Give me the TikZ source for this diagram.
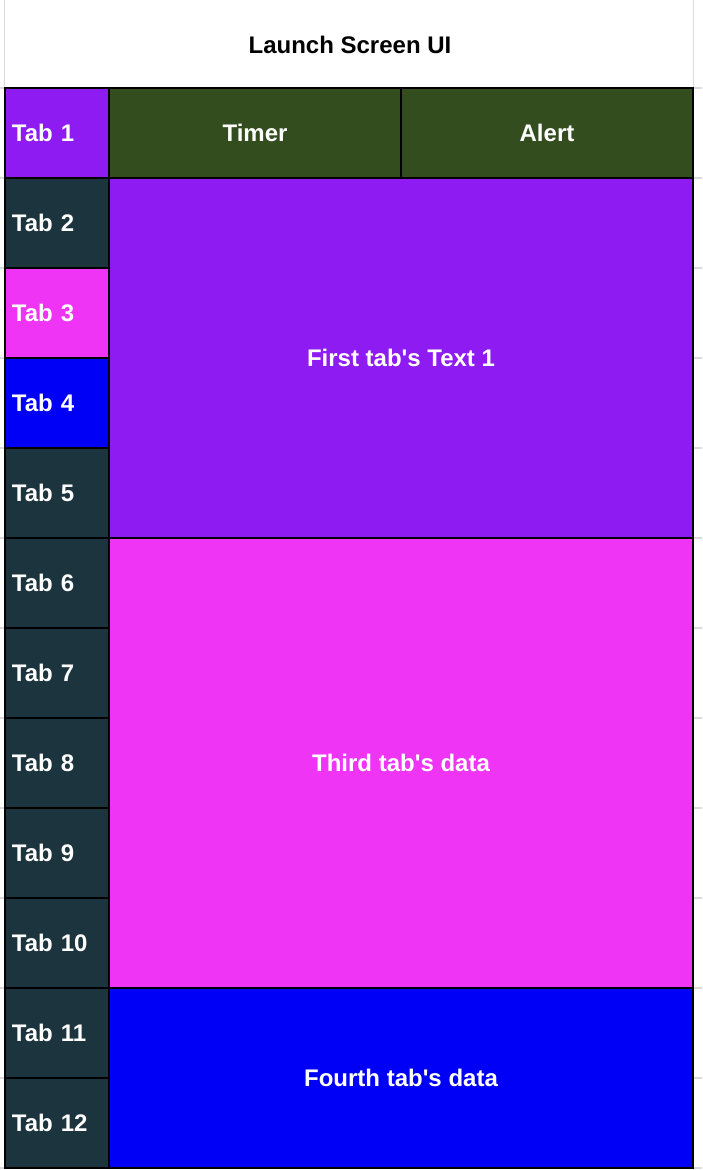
\documentclass[tikz,border=0pt]{standalone}
\usepackage{fontspec}
\setmainfont{Liberation Sans}
\definecolor{tabpurple}{RGB}{142,27,242}
\definecolor{tabpink}{RGB}{239,52,246}
\definecolor{tabblue}{RGB}{0,0,247}
\definecolor{tabdark}{RGB}{28,52,61}
\definecolor{headgreen}{RGB}{51,77,31}
\definecolor{gridgray}{RGB}{218,218,218}
\begin{document}
\begin{tikzpicture}[x=1pt, y=-1pt, every node/.style={font=\fontsize{24}{28}\selectfont\bfseries, text=white},
  cellbox/.style={draw=black, line width=2pt, inner sep=0pt},
  tabcell/.style={cellbox, minimum width=104pt, minimum height=90pt, text width=90pt, inner sep=7pt, align=left},
  gridline/.style={draw=gridgray, line width=1.2pt}]
  \useasboundingbox[fill=white] (0,0) rectangle (702,1170);
  % faint sheet gridlines
  \draw[gridline] (4.5,0) -- (4.5,88); \draw[gridline] (693.5,0) -- (693.5,88);
  \foreach \y in {88,178,...,1168} { \draw[gridline] (0,\y) -- (4,\y); \draw[gridline] (694,\y) -- (702,\y); }
  \node[text=black] (title) at (350,45) {Launch Screen UI};
  % header row
  \node[cellbox,fill=headgreen,minimum width=292pt,minimum height=90pt] (timer) at (255,133) {Timer};
  \node[cellbox,fill=headgreen,minimum width=292pt,minimum height=90pt] (alert) at (547,133) {Alert};
  % content panes
  \node[cellbox,fill=tabpurple,minimum width=584pt,minimum height=360pt] (first) at (401,358) {First tab\textquotesingle s Text 1};
  \node[cellbox,fill=tabpink,minimum width=584pt,minimum height=450pt] (third) at (401,763) {Third tab\textquotesingle s data};
  \node[cellbox,fill=tabblue,minimum width=584pt,minimum height=180pt] (fourth) at (401,1078) {Fourth tab\textquotesingle s data};
  % tab column
  \foreach \i/\col in {1/tabpurple,2/tabdark,3/tabpink,4/tabblue,5/tabdark,6/tabdark,7/tabdark,8/tabdark,9/tabdark,10/tabdark,11/tabdark,12/tabdark}
    \node[tabcell,fill=\col] (tab\i) at (57,{43+90*\i}) {Tab \i};
\end{tikzpicture}
\end{document}
